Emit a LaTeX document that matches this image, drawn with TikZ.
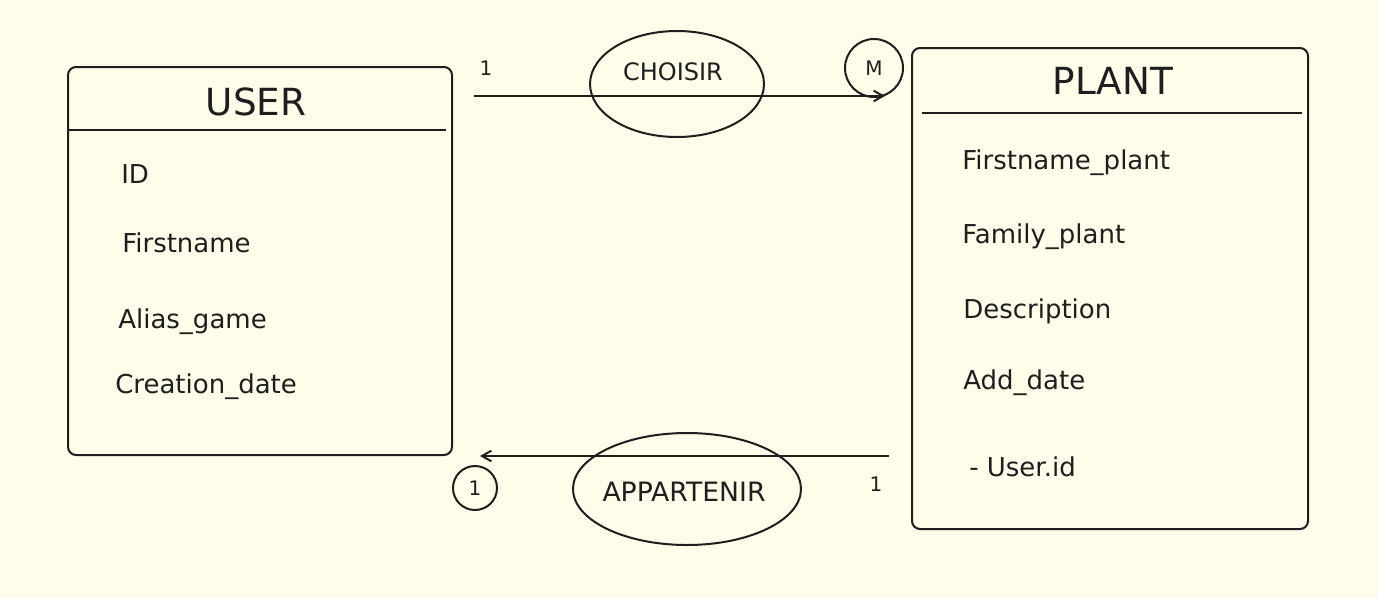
\documentclass[tikz,border=0pt]{standalone}
\usepackage{fontspec}
\setmainfont{DejaVu Sans}
\usetikzlibrary{arrows.meta,shapes.geometric}
\definecolor{bg}{HTML}{FFFDE9}
\definecolor{ink}{HTML}{1E1E1E}
\begin{document}
\begin{tikzpicture}[x=0.75pt,y=-0.75pt,
  entity/.style={draw=ink,line width=1.5pt,rounded corners=6pt,inner sep=0pt,anchor=north west},
  titletext/.style={text=ink,font=\fontsize{28}{32}\selectfont,inner sep=0pt},
  attr/.style={text=ink,font=\fontsize{19.5}{22}\selectfont,anchor=west,inner sep=0pt},
  reltext/.style={text=ink,inner sep=0pt},
  relshape/.style={draw=ink,line width=1.5pt,ellipse,inner sep=0pt},
  card/.style={text=ink,font=\fontsize{15}{17}\selectfont,inner sep=0pt},
  cardcirc/.style={draw=ink,line width=1.5pt,circle,inner sep=0pt,text=ink,font=\fontsize{15}{17}\selectfont},
  conn/.style={draw=ink,line width=1.5pt,-{Straight Barb[length=7pt,width=8pt]}}]
\fill[bg] (0,0) rectangle (1378,597);
\useasboundingbox (0,0) rectangle (1378,597);

% USER entity
\node[entity,minimum width=288pt,minimum height=291pt] (user) at (67,66) {};
\draw[ink,line width=1.5pt] (67,130) -- (446,130);
\node[titletext] (usertitle) at (256,102) {USER};
\node[attr] (uid) at (121,174) {ID};
\node[attr] (ufirst) at (122,243) {Firstname};
\node[attr] (ualias) at (118,322) {Alias\_game};
\node[attr] (ucreate) at (115,387) {Creation\_date};

% PLANT entity
\node[entity,minimum width=297pt,minimum height=360.75pt] (plant) at (911,47) {};
\draw[ink,line width=1.5pt] (922,113) -- (1302,113);
\node[titletext] (planttitle) at (1113,81) {PLANT};
\node[attr] (pfirst) at (962,163) {Firstname\_plant};
\node[attr] (pfamily) at (962,237) {Family\_plant};
\node[attr] (pdesc) at (963,311) {Description};
\node[attr] (padd) at (963,383) {Add\_date};
\node[attr] (puser) at (969,467) {- User.id};

% CHOISIR relation
\coordinate (c1s) at (474,96);
\coordinate (c1e) at (885,96);
\draw[conn] (c1s) -- (c1e);
\node[relshape,minimum width=130.5pt,minimum height=79.5pt] (choisirshape) at (677,84) {};
\node[reltext,font=\fontsize{18}{20}\selectfont] (choisir) at (673,72) {CHOISIR};
\node[card] (one1) at (486,68) {1};
\node[cardcirc,minimum size=43.5pt] (many) at (874,68) {M};

% APPARTENIR relation
\coordinate (c2s) at (889,456);
\coordinate (c2e) at (480,456);
\draw[conn] (c2s) -- (c2e);
\node[relshape,minimum width=171pt,minimum height=84pt] (appshape) at (687,489) {};
\node[reltext,font=\fontsize{20}{22}\selectfont] (appartenir) at (684,492) {APPARTENIR};
\node[card] (one2) at (876,484) {1};
\node[cardcirc,minimum size=33pt] (onec) at (475,488) {1};
\end{tikzpicture}
\end{document}
